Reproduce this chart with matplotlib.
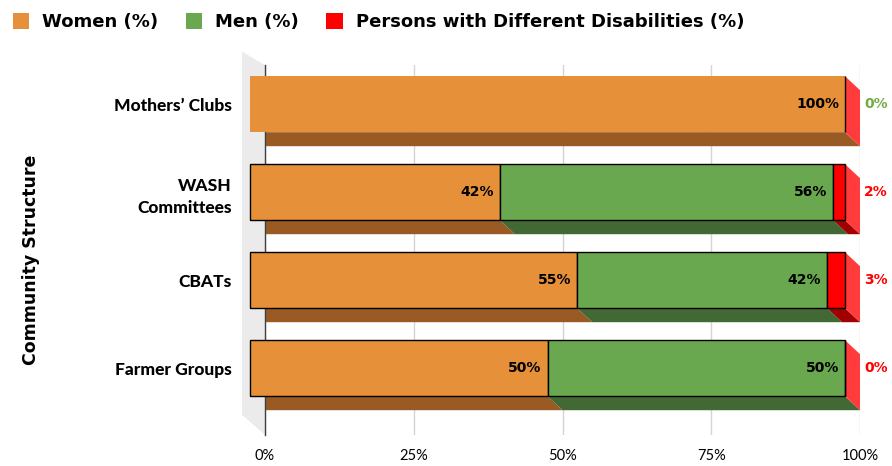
import numpy as np
import matplotlib.pyplot as plt
from matplotlib.patches import Patch, Polygon

# data, bottom row first
categories = ['Farmer Groups', 'CBATs', 'WASH\nCommittees', 'Mothers\u2019 Clubs']
women = [50, 55, 42, 100]
men = [50, 42, 56, 0]
pwd = [0, 3, 2, 0]
end_labels = ['0%', '3%', '2%', '0%']
end_colors = ['#ff0000', '#ff0000', '#ff0000', '#70ad47']
xticks = [0, 25, 50, 75, 100]
xticklabels = ['0%', '25%', '50%', '75%', '100%']

front = ['#e6913a', '#6aa84f', '#ff0000']
under = ['#995b23', '#426934', '#a00000']
side = '#ff3b3b'
outline = [True, True, True, False]

W, H = 892, 466
fig = plt.figure(figsize=(W / 100, H / 100), dpi=100)
ax = fig.add_axes([265 / W, 31 / H, 595 / W, 369.6 / H])
ax.set_xlim(0, 100)
ax.set_ylim(-0.6, 3.6)

dx = 15 / 5.95      # depth in % units
dy = 14 / 88        # depth in category units
h = 56 / 88         # bar thickness

# left wall
wall = Polygon([(-23 / 5.95, 3.76), (0, 3.6), (0, -0.6), (-23 / 5.95, -0.37)],
               closed=True, fc='#ebebeb', ec='none', clip_on=False, zorder=0)
ax.add_patch(wall)

ax.grid(axis='x', color='#d4d4d4', lw=1, zorder=0.5)
ax.set_axisbelow(True)
for s in ['top', 'right', 'bottom']:
    ax.spines[s].set_visible(False)
ax.spines['left'].set_color('#404040')
ax.spines['left'].set_linewidth(1)

y = np.arange(len(categories))
series = [women, men, pwd]
for i in y:
    left = 0
    for k, vals in enumerate(series):
        v = vals[i]
        if v > 0:
            x0, x1 = left, left + v
            yb = i - h / 2
            ax.add_patch(Polygon([(x0 - dx, yb + dy), (x1 - dx, yb + dy), (x1, yb), (x0, yb)],
                                 closed=True, fc=under[k], ec='none', zorder=2))
        left += v
    # right side face
    ax.add_patch(Polygon([(100 - dx, i + dy + h / 2), (100, i + h / 2),
                          (100, i - h / 2), (100 - dx, i + dy - h / 2)],
                         closed=True, fc=side, ec='none', zorder=2, clip_on=False))
    left = 0
    for k, vals in enumerate(series):
        v = vals[i]
        ax.barh(i + dy, v, left=left - dx, height=h, color=front[k],
                edgecolor='black' if (outline[i] or k == 2) else 'none',
                linewidth=1, zorder=3, clip_on=False)
        if v > 0 and k < 2:
            ax.text(left + v - dx - 1.0, i + dy, f'{v}%', ha='right', va='center',
                    fontsize=10, fontweight='bold', color='black', zorder=4)
        left += v
    ax.text(100.7, i + dy, end_labels[i], ha='left', va='center', fontsize=10,
            fontweight='bold', color=end_colors[i], clip_on=False)

ax.set_yticks(y + dy)
ax.set_yticklabels(categories, fontfamily='Lato', fontweight='black', fontsize=12.5,
                   linespacing=1.5)
ax.set_xticks(xticks)
ax.set_xticklabels(xticklabels, fontfamily='Lato', fontsize=10.5)
ax.tick_params(axis='y', length=0, pad=24)
ax.tick_params(axis='x', length=0, pad=10)

ax.set_ylabel('Community Structure', fontsize=12.5, fontweight='bold')
ax.yaxis.set_label_coords(-0.378, 0.473)

handles = [Patch(fc=c, ec='none') for c in front]
fig.legend(handles, ['Women (%)', 'Men (%)', 'Persons with Different Disabilities (%)'],
           loc='upper left', bbox_to_anchor=(0.0, 1.0), ncol=3, frameon=False,
           prop={'weight': 'bold', 'size': 13}, handlelength=0.9, handleheight=1.0,
           handletextpad=0.75, columnspacing=1.5, borderaxespad=0.3)

fig.savefig('out.png', dpi=100)
